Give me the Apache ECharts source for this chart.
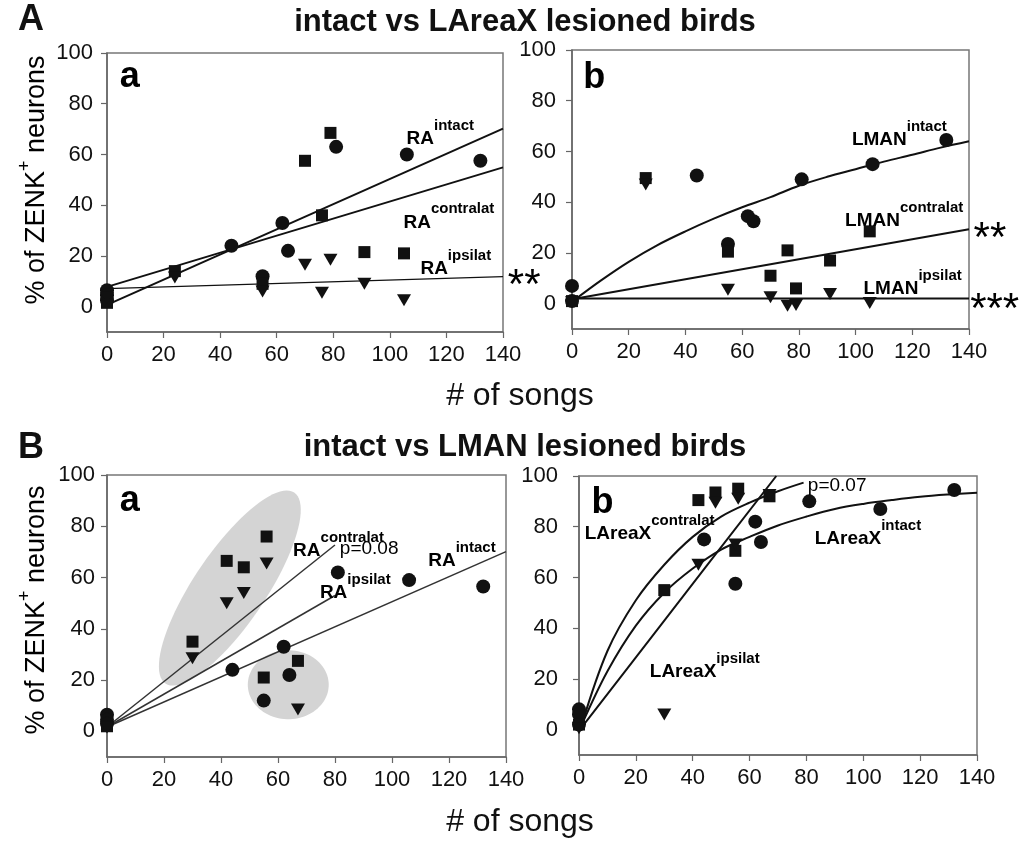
<!DOCTYPE html>
<html><head><meta charset="utf-8">
<script src="https://cdn.jsdelivr.net/npm/echarts@6/dist/echarts.min.js"></script>
<style>html,body{margin:0;padding:0;background:#fff}#c{width:1020px;height:843px}</style>
</head><body><div id="c"></div>
<script>
// ---------- tick labels ----------
const xTicks = [0, 20, 40, 60, 80, 100, 120, 140];
const yTicks = [0, 20, 40, 60, 80, 100];

// ---------- A-a : RA, intact vs LAreaX lesioned  [songs, %ZENK+] ----------
const Aa_intact   = [[0,6.5],[0,4.5],[0,2.5],[44,24],[55,12],[62,33],[64,22],[81,63],[106,60],[132,57.5]];
const Aa_contra   = [[0,1.5],[0,3],[24,14],[55,9],[70,57.5],[76,36],[79,68.5],[91,21.5],[105,21]];
const Aa_ipsi     = [[0,3.5],[24,11.5],[55,6],[70,16.5],[76,5.5],[79,18.5],[91,9],[105,2.5]];
const Aa_fitIntact = [[0,0.7],[140,70.2]];
const Aa_fitContra = [[0,7.8],[140,54.9]];
const Aa_fitIpsi   = [[0,7.1],[140,11.8]];

// ---------- A-b : LMAN, intact vs LAreaX lesioned ----------
const Ab_intact   = [[0,7],[0,1],[44,50.5],[55,23.5],[62,34.5],[64,32.5],[81,49],[106,55],[132,64.5]];
const Ab_contra   = [[0,1],[26,49.5],[55,20.5],[70,11],[76,21],[79,6],[91,17],[105,28.5]];
const Ab_ipsi     = [[0,0.5],[26,47],[55,5.5],[70,2.5],[76,-0.8],[79,-0.5],[91,3.8],[105,0.3]];
const Ab_fitIntact = [[1.5,2],[10,9],[20,16.5],[30,23],[40,28.5],[50,33.5],[60,38],[70,42],[80,46.5],[90,50],[100,53],[110,56],[120,58.7],[130,61.5],[140,64]];
const Ab_fitContra = [[1.5,2],[140,29.3]];
const Ab_fitIpsi   = [[0,2],[140,2]];

// ---------- B-a : RA, intact vs LMAN lesioned ----------
const Ba_intact   = [[0,6.5],[0,4.5],[0,3],[44,24],[55,12],[62,33],[64,22],[81,62],[106,59],[132,56.5]];
const Ba_contra   = [[0,2],[30,35],[42,66.5],[48,64],[56,76],[55,21],[67,27.5]];
const Ba_ipsi     = [[0,1.5],[30,28.5],[42,50],[48,54],[56,65.5],[67,8.5]];
const Ba_fitContra = [[0,1.7],[80,72.7]];
const Ba_fitIpsi   = [[0,1.7],[80,53]];
const Ba_fitIntact = [[0,1.7],[140,70.1]];
const Ba_groupCenters = [[43.1,55.9],[63.6,18.2]];

// ---------- B-b : LAreaX, intact vs LMAN lesioned ----------
const Bb_intact   = [[0,8],[0,6],[0,2],[44,75],[55,57.5],[62,82],[64,74],[81,90],[106,87],[132,94.5]];
const Bb_contra   = [[0,2],[30,55],[42,90.5],[48,93.5],[56,95],[55,70.5],[67,92]];
const Bb_ipsi     = [[0,0.5],[30,6],[42,65],[48,89.5],[56,91],[55,73],[67,92.5]];
const Bb_fitIntact = [[1,2],[10,23],[20,41],[30,54],[40,63.5],[50,71],[60,76],[70,80.5],[80,84],[90,87],[100,89],[110,90.5],[120,91.8],[130,92.7],[140,93.4]];
const Bb_fitContra = [[1,2],[10,31],[20,51],[30,65],[40,76],[50,84],[60,89.5],[70,94],[79,97.4]];
const Bb_fitIpsi   = [[1,1],[30,43],[69.4,100]];

// ---------- layout / style (not data) ----------
const FONT = '"Liberation Sans", Arial, Helvetica, sans-serif';
const INK = '#111';
const grids = [
  {left:107, top:53, width:396, height:279},
  {left:572, top:50, width:397, height:279},
  {left:107, top:475, width:399, height:282},
  {left:579, top:476, width:398, height:279}
];
const yLabelMargin = [14, 16, 12, 21];
const groupShapes = [{a:40.4, b:12.6, rot:56}, {a:14.2, b:12.1, rot:0}];

// annotations anchored in data space: [grid, x, y, text]
const annotations = [
  [0, 4.5, 90.5, '{L|a}'],
  [0, 105.9, 68.2, '{m|RA}{s|intact}'],
  [0, 104.8, 35.4, '{m|RA}{s|contralat}'],
  [0, 110.8, 17.0, '{m|RA}{s|ipsilat}'],
  [0, 141.7, 8.0, '{st|**}'],
  [1, 4.0, 89.1, '{L|b}'],
  [1, 98.7, 66.8, '{m|LMAN}{s|intact}'],
  [1, 96.3, 34.8, '{m|LMAN}{s|contralat}'],
  [1, 102.8, 7.9, '{m|LMAN}{s|ipsilat}'],
  [1, 141.6, 25.3, '{st|**}'],
  [1, 140.4, -2.6, '{st|***}'],
  [2, 4.5, 90.0, '{L|a}'],
  [2, 65.3, 72.7, '{m|RA}{s|contralat}'],
  [2, 81.7, 71.2, '{p|p=0.08}'],
  [2, 74.7, 56.1, '{m|RA}{s|ipsilat}'],
  [2, 112.7, 68.8, '{m|RA}{s|intact}'],
  [3, 4.4, 89.5, '{L|b}'],
  [3, 2.0, 79.3, '{m|LAreaX}{s|contralat}'],
  [3, 82.9, 77.3, '{m|LAreaX}{s|intact}'],
  [3, 24.9, 25.1, '{m|LAreaX}{s|ipsilat}'],
  [3, 80.5, 96.2, '{p|p=0.07}']
];
const rich = {
  m: {fontSize:19, fontWeight:'bold', fontFamily:FONT, color:INK, lineHeight:30, verticalAlign:'bottom'},
  s: {fontSize:15, fontWeight:'bold', fontFamily:FONT, color:INK, lineHeight:14, verticalAlign:'top'},
  p: {fontSize:19, fontFamily:FONT, color:INK},
  st: {fontSize:42, fontFamily:FONT, color:INK},
  L: {fontSize:36, fontWeight:'bold', fontFamily:FONT, color:INK}
};

const xAxes = grids.map((g, i) => ({
  gridIndex:i, type:'value', min:0, max:140, interval:20,
  axisLine:{show:true, onZero:false, lineStyle:{color:'#666', width:1.5}},
  axisTick:{show:true, length:6, lineStyle:{color:'#666', width:1.2}, customValues:xTicks},
  axisLabel:{fontSize:22, color:INK, fontFamily:FONT, margin:12, customValues:xTicks},
  splitLine:{show:false}
}));
const yAxes = grids.map((g, i) => ({
  gridIndex:i, type:'value', min:-10, max:100,
  axisLine:{show:true, onZero:false, lineStyle:{color:'#666', width:1.5}},
  axisTick:{show:true, length:6, lineStyle:{color:'#666', width:1.2}, customValues:yTicks},
  axisLabel:{fontSize:22, color:INK, fontFamily:FONT, margin:yLabelMargin[i], customValues:yTicks,
    formatter: v => (yTicks.indexOf(v) >= 0 ? String(v) : '')},
  splitLine:{show:false}
}));

function fit(i, data, width, color, smooth) {
  return {type:'line', xAxisIndex:i, yAxisIndex:i, data, showSymbol:false, symbol:'none',
    smooth: smooth ? 0.35 : false, lineStyle:{color: color || INK, width: width || 2}, z:2, silent:true};
}
function pts(i, data, kind) {
  const base = {type:'scatter', xAxisIndex:i, yAxisIndex:i, data, itemStyle:{color:INK, opacity:1}, z:3, silent:true};
  if (kind === 'circle') return Object.assign(base, {symbol:'circle', symbolSize:14});
  if (kind === 'rect') return Object.assign(base, {symbol:'rect', symbolSize:12});
  return Object.assign(base, {symbol:'triangle', symbolSize:[14,12], symbolRotate:180});
}

const series = [];
// shaded groups in B-a
series.push({
  type:'custom', xAxisIndex:2, yAxisIndex:2, z:1, silent:true,
  data: Ba_groupCenters.map((c, k) => [c[0], c[1], k]),
  renderItem: (params, api) => {
    const g = groupShapes[api.value(2)];
    const c = api.coord([api.value(0), api.value(1)]);
    const u = api.size([1, 0])[0];
    const a = g.a * u, b = g.b * u, th = g.rot * Math.PI / 180;
    const ux = Math.cos(th), uy = -Math.sin(th), vx = Math.sin(th), vy = Math.cos(th);
    const points = [];
    for (let k = 0; k < 90; k++) {
      const t = k / 90 * Math.PI * 2;
      const ex = a * Math.cos(t), ey = b * Math.sin(t);
      points.push([c[0] + ex * ux + ey * vx, c[1] + ex * uy + ey * vy]);
    }
    return {type:'polygon', shape:{points}, style:{fill:'#d4d4d4'}};
  }
});

series.push(fit(0, Aa_fitIntact, 2), fit(0, Aa_fitContra, 2), fit(0, Aa_fitIpsi, 1.2));
series.push(pts(0, Aa_intact, 'circle'), pts(0, Aa_contra, 'rect'), pts(0, Aa_ipsi, 'tri'));
series.push(fit(1, Ab_fitIntact, 2, INK, true), fit(1, Ab_fitContra, 2), fit(1, Ab_fitIpsi, 2));
series.push(pts(1, Ab_intact, 'circle'), pts(1, Ab_contra, 'rect'), pts(1, Ab_ipsi, 'tri'));
series.push(fit(2, Ba_fitContra, 1.5, '#333'), fit(2, Ba_fitIpsi, 1.5, '#333'), fit(2, Ba_fitIntact, 1.5, '#333'));
series.push(pts(2, Ba_intact, 'circle'), pts(2, Ba_contra, 'rect'), pts(2, Ba_ipsi, 'tri'));
series.push(fit(3, Bb_fitIntact, 2, INK, true), fit(3, Bb_fitContra, 2, INK, true), fit(3, Bb_fitIpsi, 2, INK, true));
series.push(pts(3, Bb_intact, 'circle'), pts(3, Bb_contra, 'rect'), pts(3, Bb_ipsi, 'tri'));

// annotations, one custom series per grid
[0,1,2,3].forEach(gi => {
  const list = annotations.filter(a => a[0] === gi);
  series.push({
    type:'custom', xAxisIndex:gi, yAxisIndex:gi, z:5, silent:true, clip:false,
    data: list.map(a => [a[1], a[2]]),
    renderItem: (params, api) => {
      const p = api.coord([api.value(0), api.value(1)]);
      return {type:'text', x:p[0], y:p[1],
        style:{text:list[params.dataIndex][3], rich, align:'left', verticalAlign:'middle'}};
    }
  });
});

const yName = {
  a: {fontSize:27, fontFamily:FONT, color:INK, lineHeight:34, verticalAlign:'bottom'},
  s: {fontSize:18, fontFamily:FONT, color:INK, lineHeight:16, verticalAlign:'top'}
};
const graphic = [
  {type:'text', x:18, y:20, style:{text:'A', font:'bold 36px ' + FONT, fill:INK, align:'left', verticalAlign:'middle'}},
  {type:'text', x:525, y:22, style:{text:'intact vs LAreaX lesioned birds', font:'bold 31px ' + FONT, fill:INK, align:'center', verticalAlign:'middle'}},
  {type:'text', x:520, y:396, style:{text:'# of songs', font:'32px ' + FONT, fill:INK, align:'center', verticalAlign:'middle'}},
  {type:'text', x:18, y:448, style:{text:'B', font:'bold 36px ' + FONT, fill:INK, align:'left', verticalAlign:'middle'}},
  {type:'text', x:525, y:447, style:{text:'intact vs LMAN lesioned birds', font:'bold 31px ' + FONT, fill:INK, align:'center', verticalAlign:'middle'}},
  {type:'text', x:520, y:822, style:{text:'# of songs', font:'32px ' + FONT, fill:INK, align:'center', verticalAlign:'middle'}},
  {type:'text', x:33, y:180, rotation:Math.PI/2, style:{text:'{a|% of ZENK}{s|+}{a| neurons}', rich:yName, align:'center', verticalAlign:'middle'}},
  {type:'text', x:33, y:610, rotation:Math.PI/2, style:{text:'{a|% of ZENK}{s|+}{a| neurons}', rich:yName, align:'center', verticalAlign:'middle'}}
];

const chart = echarts.init(document.getElementById('c'), null, {renderer:'canvas'});
chart.setOption({
  animation:false,
  backgroundColor:'#fff',
  grid: grids.map(g => Object.assign({show:true, borderColor:'#777', borderWidth:1.5, backgroundColor:'transparent'}, g)),
  xAxis: xAxes,
  yAxis: yAxes,
  series,
  graphic
});
</script></body></html>
